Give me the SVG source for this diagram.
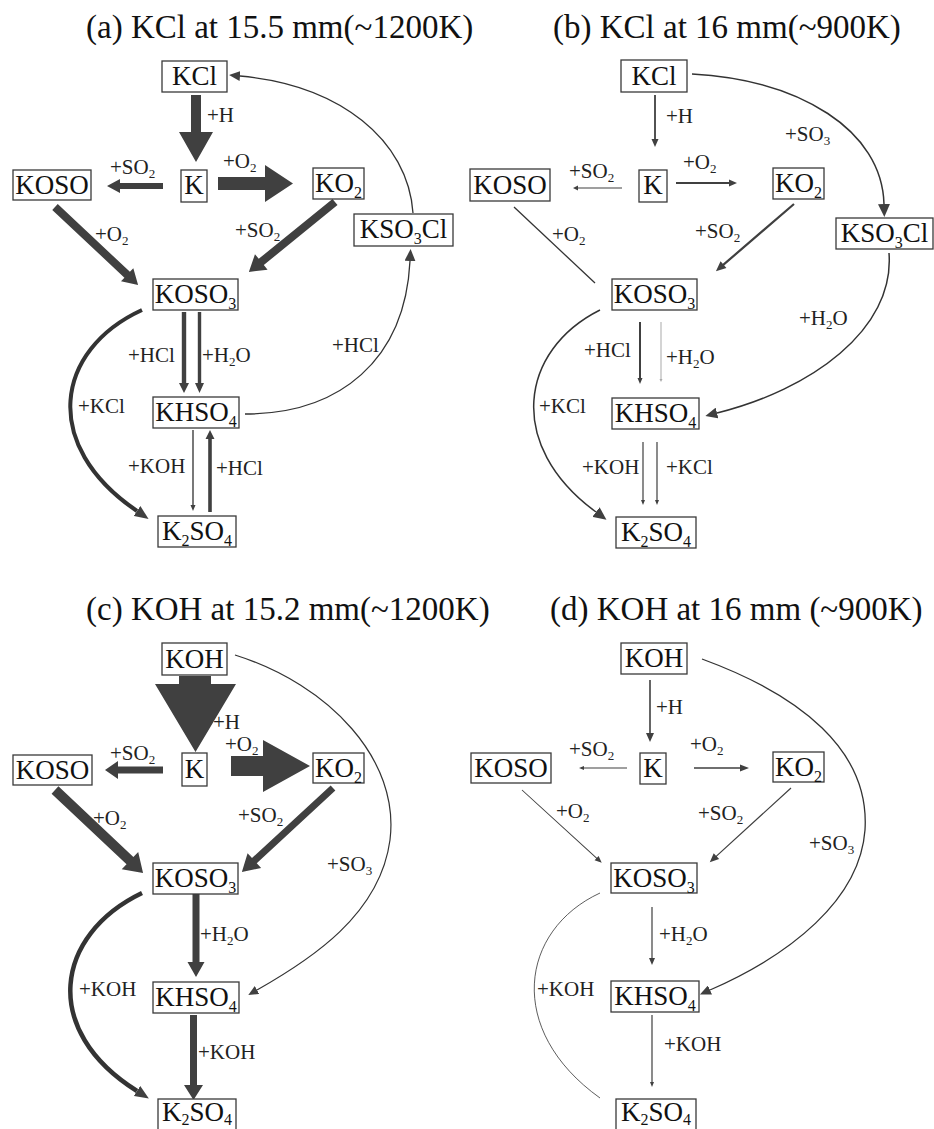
<svg xmlns="http://www.w3.org/2000/svg" width="934" height="1129" viewBox="0 0 934 1129">
<style>
.bg{fill:#fff}
.box{fill:#fff;stroke:#3a3a3a;stroke-width:1.3}
.nt{font-family:"Liberation Serif","Times New Roman",serif;font-size:27px;fill:#111;text-anchor:middle}
.sb{font-size:16px}
.lb{font-family:"Liberation Serif","Times New Roman",serif;font-size:21px;fill:#222}
.ls{font-size:13px}
.ti{font-family:"Liberation Serif","Times New Roman",serif;font-size:33px;fill:#111}
.ar{fill:#404040}
.cv{fill:none;stroke:#333}
.mk{fill:#404040}
</style>
<defs>
<marker id="m10" markerUnits="userSpaceOnUse" markerWidth="10" markerHeight="9" refX="0" refY="4.5" orient="auto"><path class="mk" d="M0,0 L10,4.5 L0,9 z"/></marker>
<marker id="m11" markerUnits="userSpaceOnUse" markerWidth="11" markerHeight="10" refX="0" refY="5" orient="auto"><path class="mk" d="M0,0 L11,5 L0,10 z"/></marker>
<marker id="m12" markerUnits="userSpaceOnUse" markerWidth="12" markerHeight="11" refX="0" refY="5.5" orient="auto"><path class="mk" d="M0,0 L12,5.5 L0,11 z"/></marker>
<marker id="m13" markerUnits="userSpaceOnUse" markerWidth="13" markerHeight="12" refX="0" refY="6" orient="auto"><path class="mk" d="M0,0 L13,6 L0,12 z"/></marker>
<marker id="m14" markerUnits="userSpaceOnUse" markerWidth="14" markerHeight="12" refX="0" refY="6" orient="auto"><path class="mk" d="M0,0 L14,6 L0,12 z"/></marker>
</defs>
<rect class="bg" x="0" y="0" width="934" height="1129"/>

<g id="titles">
<text class="ti" x="86" y="38">(a) KCl at 15.5 mm(~1200K)</text>
<text class="ti" x="553" y="38">(b) KCl at 16 mm(~900K)</text>
<text class="ti" x="86" y="620">(c) KOH at 15.2 mm(~1200K)</text>
<text class="ti" x="550" y="620">(d) KOH at 16 mm (~900K)</text>
</g>

<g id="connectors">
<!-- panel a -->
<polygon class="ar" points="191,95 201,95 201,132 213,132 196,162 179,132 191,132"/>
<polygon class="ar" transform="translate(218,183.5)" points="0,-6.5 47,-6.5 47,-18.5 75,0 47,18.5 47,6.5 0,6.5"/>
<polygon class="ar" transform="translate(163,186) rotate(180)" points="0,-3 43,-3 43,-7 56,0 43,7 43,3 0,3"/>
<polygon class="ar" transform="translate(55,207) rotate(43.2)" points="0,-4 99,-4 99,-9 114,0 99,9 99,4 0,4"/>
<polygon class="ar" transform="translate(335,202) rotate(140.9)" points="0,-4 95,-4 95,-10 111,0 95,10 95,4 0,4"/>
<polygon class="ar" transform="translate(184,312) rotate(90)" points="0,-2.2 71,-2.2 71,-5 81,0 71,5 71,2.2 0,2.2"/>
<polygon class="ar" transform="translate(199.5,312) rotate(90)" points="0,-1.7 71,-1.7 71,-4.5 81,0 71,4.5 71,1.7 0,1.7"/>
<polygon class="ar" transform="translate(193,430) rotate(90)" points="0,-0.7 75,-0.7 75,-2.5 81,0 75,2.5 75,0.7 0,0.7"/>
<polygon class="ar" transform="translate(210,512) rotate(-90)" points="0,-1.8 73,-1.8 73,-4.5 82,0 73,4.5 73,1.8 0,1.8"/>
<path class="cv" stroke-width="1.3" d="M413,213 C408,140 340,85 240,76" marker-end="url(#m11)"/>
<path class="cv" stroke-width="1.3" d="M245,414 C340,414 405,360 410,261" marker-end="url(#m12)"/>
<path class="cv" stroke-width="4" stroke="#404040" d="M142,310 C55,350 40,445 137,511" marker-end="url(#m14)"/>

<!-- panel b -->
<polygon class="ar" transform="translate(655,95) rotate(90)" points="0,-0.9 44,-0.9 44,-3.5 52,0 44,3.5 44,0.9 0,0.9"/>
<polygon class="ar" transform="translate(622,188) rotate(180)" points="0,-0.5 44,-0.5 44,-2.5 49,0 44,2.5 44,0.5 0,0.5"/>
<polygon class="ar" transform="translate(676,183)" points="0,-0.9 53,-0.9 53,-3.5 61,0 53,3.5 53,0.9 0,0.9"/>
<line x1="514" y1="207" x2="595" y2="283" stroke="#333" stroke-width="1.3"/>
<polygon class="ar" transform="translate(794,204) rotate(139.3)" points="0,-1.1 93,-1.1 93,-4.5 103,0 93,4.5 93,1.1 0,1.1"/>
<polygon class="ar" transform="translate(640,322) rotate(90)" points="0,-1 56,-1 56,-2.5 62,0 56,2.5 56,1 0,1"/>
<polygon transform="translate(661,322) rotate(90)" fill="#aaa" points="0,-0.5 57,-0.5 57,-1.5 60,0 57,1.5 57,0.5 0,0.5"/>
<polygon class="ar" transform="translate(643,442) rotate(90)" points="0,-0.6 58,-0.6 58,-2 63,0 58,2 58,0.6 0,0.6"/>
<polygon class="ar" transform="translate(657,442) rotate(90)" points="0,-0.6 58,-0.6 58,-2 63,0 58,2 58,0.6 0,0.6"/>
<path class="cv" stroke-width="1.5" d="M692,74 C800,80 882,130 884,204" marker-end="url(#m13)"/>
<path class="cv" stroke-width="1.5" d="M889,253 C895,330 810,390 717,413" marker-end="url(#m12)"/>
<path class="cv" stroke-width="1.5" d="M600,310 C520,350 505,445 596,512" marker-end="url(#m13)"/>

<!-- panel c -->
<polygon class="ar" points="179,676 211,676 211,684 236,684 195.5,752 155,684 179,684"/>
<polygon class="ar" points="231,756 263,756 263,740 310,766 263,792 263,776 231,776"/>
<polygon class="ar" transform="translate(163,770) rotate(180)" points="0,-3.5 45,-3.5 45,-9 58,0 45,9 45,3.5 0,3.5"/>
<polygon class="ar" transform="translate(55,790) rotate(43.3)" points="0,-5 103,-5 103,-12 121,0 103,12 103,5 0,5"/>
<polygon class="ar" transform="translate(333,788) rotate(137.3)" points="0,-3.5 107,-3.5 107,-10 124,0 107,10 107,3.5 0,3.5"/>
<polygon class="ar" transform="translate(196,894) rotate(90)" points="0,-3.5 68,-3.5 68,-8.5 83,0 68,8.5 68,3.5 0,3.5"/>
<polygon class="ar" transform="translate(193.5,1015) rotate(90)" points="0,-3.5 70,-3.5 70,-9.5 85,0 70,9.5 70,3.5 0,3.5"/>
<path class="cv" stroke-width="4.5" stroke="#404040" d="M142,893 C55,935 40,1030 137,1091" marker-end="url(#m14)"/>
<path class="cv" stroke-width="1.2" d="M235,655 C330,685 400,760 390,840 C380,915 310,960 257,990" marker-end="url(#m10)"/>

<!-- panel d -->
<polygon class="ar" transform="translate(650,680) rotate(90)" points="0,-0.8 53,-0.8 53,-4 62,0 53,4 53,0.8 0,0.8"/>
<polygon class="ar" transform="translate(627,768) rotate(180)" points="0,-0.5 43,-0.5 43,-2 48,0 43,2 43,0.5 0,0.5"/>
<polygon class="ar" transform="translate(694,768)" points="0,-0.8 46,-0.8 46,-3.5 55,0 46,3.5 46,0.8 0,0.8"/>
<polygon class="ar" transform="translate(522,790) rotate(42.4)" points="0,-0.5 101,-0.5 101,-3 108,0 101,3 101,0.5 0,0.5"/>
<polygon class="ar" transform="translate(791,788) rotate(137.6)" points="0,-0.6 101,-0.6 101,-4 110,0 101,4 101,0.6 0,0.6"/>
<polygon class="ar" transform="translate(652,907) rotate(90)" points="0,-0.6 51,-0.6 51,-3 58,0 51,3 51,0.6 0,0.6"/>
<polygon class="ar" transform="translate(652,1015) rotate(90)" points="0,-0.6 67,-0.6 67,-2 72,0 67,2 67,0.6 0,0.6"/>
<path class="cv" stroke-width="1.3" d="M702,659 C800,695 870,750 865,830 C860,900 790,955 710,990" marker-end="url(#m11)"/>
<path class="cv" stroke-width="0.8" stroke="#b0b0b0" d="M600,893 C520,930 505,1030 600,1098"/>
</g>

<g id="labels">
<!-- a -->
<text class="lb" x="207" y="122">+H</text>
<text class="lb" x="110" y="174">+SO<tspan class="ls" dy="4">2</tspan></text>
<text class="lb" x="223" y="168">+O<tspan class="ls" dy="4">2</tspan></text>
<text class="lb" x="95" y="241">+O<tspan class="ls" dy="4">2</tspan></text>
<text class="lb" x="235" y="237">+SO<tspan class="ls" dy="4">2</tspan></text>
<text class="lb" x="332" y="352">+HCl</text>
<text class="lb" x="128" y="362">+HCl</text>
<text class="lb" x="202" y="362">+H<tspan class="ls" dy="4">2</tspan><tspan dy="-4">O</tspan></text>
<text class="lb" x="78" y="413">+KCl</text>
<text class="lb" x="128" y="473">+KOH</text>
<text class="lb" x="216" y="475">+HCl</text>
<!-- b -->
<text class="lb" x="666" y="123">+H</text>
<text class="lb" x="785" y="141">+SO<tspan class="ls" dy="4">3</tspan></text>
<text class="lb" x="569" y="178">+SO<tspan class="ls" dy="4">2</tspan></text>
<text class="lb" x="683" y="169">+O<tspan class="ls" dy="4">2</tspan></text>
<text class="lb" x="552" y="241">+O<tspan class="ls" dy="4">2</tspan></text>
<text class="lb" x="695" y="238">+SO<tspan class="ls" dy="4">2</tspan></text>
<text class="lb" x="799" y="325">+H<tspan class="ls" dy="4">2</tspan><tspan dy="-4">O</tspan></text>
<text class="lb" x="584" y="357">+HCl</text>
<text class="lb" x="666" y="364">+H<tspan class="ls" dy="4">2</tspan><tspan dy="-4">O</tspan></text>
<text class="lb" x="539" y="413">+KCl</text>
<text class="lb" x="582" y="474">+KOH</text>
<text class="lb" x="666" y="474">+KCl</text>
<!-- c -->
<text class="lb" x="213" y="729">+H</text>
<text class="lb" x="225" y="751">+O<tspan class="ls" dy="4">2</tspan></text>
<text class="lb" x="110" y="760">+SO<tspan class="ls" dy="4">2</tspan></text>
<text class="lb" x="93" y="825">+O<tspan class="ls" dy="4">2</tspan></text>
<text class="lb" x="238" y="822">+SO<tspan class="ls" dy="4">2</tspan></text>
<text class="lb" x="327" y="871">+SO<tspan class="ls" dy="4">3</tspan></text>
<text class="lb" x="200" y="941">+H<tspan class="ls" dy="4">2</tspan><tspan dy="-4">O</tspan></text>
<text class="lb" x="79" y="996">+KOH</text>
<text class="lb" x="198" y="1059">+KOH</text>
<!-- d -->
<text class="lb" x="656" y="714">+H</text>
<text class="lb" x="569" y="756">+SO<tspan class="ls" dy="4">2</tspan></text>
<text class="lb" x="690" y="751">+O<tspan class="ls" dy="4">2</tspan></text>
<text class="lb" x="556" y="818">+O<tspan class="ls" dy="4">2</tspan></text>
<text class="lb" x="698" y="820">+SO<tspan class="ls" dy="4">2</tspan></text>
<text class="lb" x="809" y="850">+SO<tspan class="ls" dy="4">3</tspan></text>
<text class="lb" x="659" y="941">+H<tspan class="ls" dy="4">2</tspan><tspan dy="-4">O</tspan></text>
<text class="lb" x="537" y="996">+KOH</text>
<text class="lb" x="664" y="1051">+KOH</text>
</g>

<!-- panel a nodes -->
<g id="a-KCl"><rect class="box" x="162" y="61" width="65" height="31"/><text class="nt" x="194.5" y="85">KCl</text></g>
<g id="a-K"><rect class="box" x="181" y="170" width="26" height="32"/><text class="nt" x="194" y="194">K</text></g>
<g id="a-KOSO"><rect class="box" x="13" y="170" width="78" height="30"/><text class="nt" x="52" y="194">KOSO</text></g>
<g id="a-KO2"><rect class="box" x="313" y="168" width="51" height="31"/><text class="nt" x="338.5" y="192">KO<tspan class="sb" dy="6">2</tspan></text></g>
<g id="a-KSO3Cl"><rect class="box" x="354" y="214" width="99" height="32"/><text class="nt" x="403.5" y="238">KSO<tspan class="sb" dy="6">3</tspan><tspan dy="-6">Cl</tspan></text></g>
<g id="a-KOSO3"><rect class="box" x="153" y="279" width="85" height="31"/><text class="nt" x="195.5" y="303">KOSO<tspan class="sb" dy="6">3</tspan></text></g>
<g id="a-KHSO4"><rect class="box" x="153" y="397" width="86" height="31"/><text class="nt" x="196" y="421">KHSO<tspan class="sb" dy="6">4</tspan></text></g>
<g id="a-K2SO4"><rect class="box" x="158" y="516" width="78" height="31"/><text class="nt" x="197" y="540">K<tspan class="sb" dy="6">2</tspan><tspan dy="-6">SO</tspan><tspan class="sb" dy="6">4</tspan></text></g>

<!-- panel b nodes -->
<g id="b-KCl"><rect class="box" x="621" y="60" width="66" height="32"/><text class="nt" x="654" y="85">KCl</text></g>
<g id="b-K"><rect class="box" x="639" y="170" width="28" height="32"/><text class="nt" x="653" y="194">K</text></g>
<g id="b-KOSO"><rect class="box" x="470" y="169" width="80" height="32"/><text class="nt" x="510" y="194">KOSO</text></g>
<g id="b-KO2"><rect class="box" x="773" y="168" width="51" height="31"/><text class="nt" x="798.5" y="192">KO<tspan class="sb" dy="6">2</tspan></text></g>
<g id="b-KSO3Cl"><rect class="box" x="836" y="218" width="97" height="31"/><text class="nt" x="884.5" y="242">KSO<tspan class="sb" dy="6">3</tspan><tspan dy="-6">Cl</tspan></text></g>
<g id="b-KOSO3"><rect class="box" x="612" y="279" width="85" height="31"/><text class="nt" x="654.5" y="303">KOSO<tspan class="sb" dy="6">3</tspan></text></g>
<g id="b-KHSO4"><rect class="box" x="612" y="398" width="87" height="31"/><text class="nt" x="655.5" y="422">KHSO<tspan class="sb" dy="6">4</tspan></text></g>
<g id="b-K2SO4"><rect class="box" x="616" y="517" width="80" height="31"/><text class="nt" x="656" y="541">K<tspan class="sb" dy="6">2</tspan><tspan dy="-6">SO</tspan><tspan class="sb" dy="6">4</tspan></text></g>

<!-- panel c nodes -->
<g id="c-KOH"><rect class="box" x="162" y="643" width="65" height="32"/><text class="nt" x="194.5" y="668">KOH</text></g>
<g id="c-K"><rect class="box" x="182" y="753" width="25" height="33"/><text class="nt" x="194.5" y="778">K</text></g>
<g id="c-KOSO"><rect class="box" x="13" y="755" width="79" height="30"/><text class="nt" x="52.5" y="779">KOSO</text></g>
<g id="c-KO2"><rect class="box" x="313" y="753" width="51" height="30"/><text class="nt" x="338.5" y="777">KO<tspan class="sb" dy="6">2</tspan></text></g>
<g id="c-KOSO3"><rect class="box" x="153" y="863" width="85" height="31"/><text class="nt" x="195.5" y="887">KOSO<tspan class="sb" dy="6">3</tspan></text></g>
<g id="c-KHSO4"><rect class="box" x="153" y="982" width="86" height="31"/><text class="nt" x="196" y="1006">KHSO<tspan class="sb" dy="6">4</tspan></text></g>
<g id="c-K2SO4"><rect class="box" x="158" y="1099" width="78" height="31"/><text class="nt" x="197" y="1121">K<tspan class="sb" dy="4">2</tspan><tspan dy="-4">SO</tspan><tspan class="sb" dy="4">4</tspan></text></g>

<!-- panel d nodes -->
<g id="d-KOH"><rect class="box" x="621" y="643" width="66" height="31"/><text class="nt" x="654" y="667">KOH</text></g>
<g id="d-K"><rect class="box" x="640" y="753" width="26" height="31"/><text class="nt" x="653" y="777">K</text></g>
<g id="d-KOSO"><rect class="box" x="471" y="753" width="80" height="30"/><text class="nt" x="511" y="777">KOSO</text></g>
<g id="d-KO2"><rect class="box" x="773" y="752" width="51" height="30"/><text class="nt" x="798.5" y="776">KO<tspan class="sb" dy="6">2</tspan></text></g>
<g id="d-KOSO3"><rect class="box" x="611" y="863" width="86" height="30"/><text class="nt" x="654" y="887">KOSO<tspan class="sb" dy="6">3</tspan></text></g>
<g id="d-KHSO4"><rect class="box" x="611" y="981" width="88" height="31"/><text class="nt" x="655" y="1005">KHSO<tspan class="sb" dy="6">4</tspan></text></g>
<g id="d-K2SO4"><rect class="box" x="616" y="1099" width="80" height="31"/><text class="nt" x="656" y="1121">K<tspan class="sb" dy="4">2</tspan><tspan dy="-4">SO</tspan><tspan class="sb" dy="4">4</tspan></text></g>
</svg>
